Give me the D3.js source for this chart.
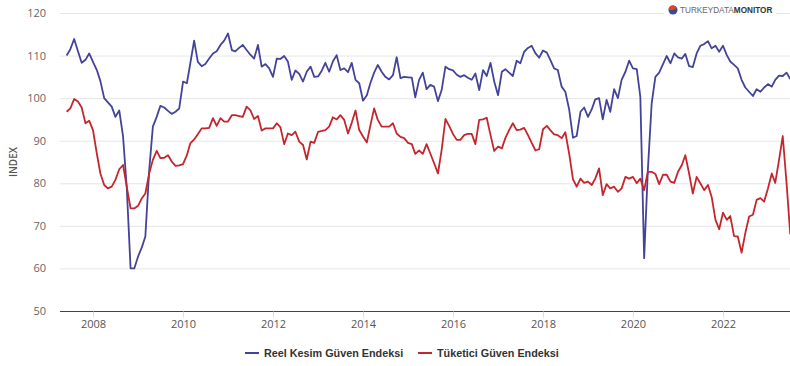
<!DOCTYPE html>
<html>
<head>
<meta charset="utf-8">
<script src="https://cdn.jsdelivr.net/npm/d3@7"></script>
<style>
  html, body { margin: 0; padding: 0; background: #fff; }
  svg { display: block; }
</style>
</head>
<body>
<svg id="chart" width="790" height="366"></svg>
<script>
// Monthly series, starting June 2007
const startMonth = "2007-06";
const seriesNames = ["Reel Kesim Güven Endeksi", "Tüketici Güven Endeksi"];
const seriesColors = ["#43439a", "#c4262d"];

const reelKesim = [
  110.0, 111.5, 113.9, 111.0, 108.3, 109.0, 110.5,
  108.5, 106.6, 104.0, 100.0, 99.0, 98.0, 95.6, 97.1, 91.0, 79.0, 60.0, 60.0,
  62.8, 65.0, 67.5, 83.0, 93.3, 95.6, 98.2, 97.8, 97.0, 96.3, 96.8, 97.6,
  103.9, 103.5, 108.2, 113.5, 108.5, 107.5, 108.0, 109.3, 110.5, 111.0, 112.5, 113.5,
  115.2, 111.3, 111.0, 111.8, 112.5, 111.3, 110.2, 109.3, 112.5, 107.4, 108.0, 107.0,
  105.0, 109.3, 109.2, 109.9, 108.6, 104.3, 106.5, 105.7, 103.9, 106.2, 107.4, 105.0,
  105.1, 106.5, 108.3, 106.2, 108.6, 110.1, 106.6, 107.0, 106.1, 108.3, 104.3, 103.5,
  99.4, 100.7, 103.5, 106.0, 107.8, 106.2, 105.0, 104.4, 105.4, 109.6, 104.7, 105.0,
  104.9, 104.8, 100.2, 104.3, 106.0, 102.1, 103.1, 102.7, 99.3, 101.9, 107.4, 106.8,
  106.5, 105.5, 105.0, 105.4, 104.8, 104.3, 105.8, 101.9, 106.6, 105.2, 108.3, 103.9,
  100.7, 106.2, 106.8, 106.0, 105.2, 108.8, 108.2, 110.9, 111.8, 112.3, 110.5, 109.5,
  111.2, 110.7, 109.0, 107.0, 106.6, 102.7, 101.5, 97.4, 90.7, 91.1, 96.8, 97.8,
  95.6, 97.4, 99.7, 100.0, 95.0, 99.6, 96.8, 102.1, 100.0, 104.3, 106.2, 108.8,
  107.0, 106.8, 100.3, 62.4, 83.1, 98.8, 105.0, 106.0, 108.0, 109.9, 108.2, 110.5,
  109.6, 109.3, 110.4, 107.5, 107.3, 110.5, 112.3, 112.7, 113.4, 111.7, 112.3, 110.9,
  112.3, 110.1, 108.6, 107.8, 107.0, 104.3, 102.5, 101.5, 100.5, 102.1, 101.5, 102.5,
  103.3, 102.7, 104.3, 105.3, 105.2, 106.0, 104.5
];

const tuketici = [
  96.8, 97.6, 99.8, 99.2, 97.8, 94.1, 94.7,
  92.5, 87.0, 82.3, 79.6, 78.8, 79.2, 80.8, 83.3, 84.3, 79.2, 74.1, 74.1,
  74.7, 76.5, 77.6, 82.3, 85.5, 87.6, 85.9, 86.0, 86.6, 85.1, 84.1, 84.2,
  84.5, 86.6, 89.4, 90.3, 91.5, 92.9, 92.9, 93.0, 95.3, 93.5, 95.3, 94.5,
  94.5, 96.0, 96.0, 95.8, 95.6, 98.0, 97.2, 95.1, 95.8, 92.4, 92.9, 92.9,
  92.9, 94.1, 93.2, 89.2, 91.7, 91.3, 92.1, 89.8, 89.0, 85.6, 89.8, 89.5,
  92.1, 92.3, 92.5, 93.3, 95.5, 95.0, 96.0, 94.9, 91.7, 94.2, 97.1, 92.5,
  91.0, 89.6, 93.5, 97.6, 94.9, 93.3, 93.3, 93.3, 94.1, 91.7, 90.9, 90.6,
  89.5, 89.2, 86.9, 87.7, 86.9, 89.2, 87.0, 84.7, 82.3, 87.8, 95.1, 93.5,
  91.6, 90.2, 90.2, 91.3, 91.6, 91.6, 89.2, 94.9, 95.0, 95.4, 91.3, 87.6,
  88.6, 88.2, 90.6, 92.5, 94.1, 92.5, 92.6, 93.0, 91.3, 89.5, 87.7, 88.0,
  92.7, 93.5, 92.5, 91.5, 91.3, 90.6, 92.0, 87.0, 81.0, 79.2, 81.1, 80.1,
  80.4, 79.6, 81.1, 83.5, 77.2, 79.8, 78.8, 79.2, 78.0, 78.8, 81.5, 81.1,
  81.5, 80.0, 81.1, 78.4, 82.7, 82.7, 82.2, 79.8, 82.0, 82.0, 80.4, 80.1,
  82.7, 84.3, 86.6, 82.3, 77.6, 81.5, 80.0, 78.4, 79.6, 76.8, 71.4, 69.2,
  73.1, 71.4, 72.3, 67.6, 67.5, 63.7, 68.3, 72.2, 72.6, 76.1, 76.5, 75.7,
  78.8, 82.3, 80.1, 85.5, 91.1, 80.0, 68.0
];

const yTicks = [50, 60, 70, 80, 90, 100, 110, 120];
const xTickYears = [2008, 2010, 2012, 2014, 2016, 2018, 2020, 2022];
const yAxisTitle = "INDEX";
const brandLight = "TURKEYDATA";
const brandBold = "MONITOR";

const svg = d3.select("#chart");
const W = 790, H = 366;
const margin = { left: 60, right: 0, top: 13, bottom: 55 };

const parseMonth = d3.utcParse("%Y-%m");
const t0 = parseMonth(startMonth);
const dates = reelKesim.map((_, i) => d3.utcMonth.offset(t0, i));

const x = d3.scaleUtc()
  .domain([Date.UTC(2008, 0, 1), Date.UTC(2022, 0, 1)])
  .range([93, 723]);
const y = d3.scaleLinear()
  .domain([50, 120])
  .range([H - margin.bottom, margin.top]);

// Horizontal gridlines
svg.append("g")
  .selectAll("line")
  .data(yTicks.filter(v => v !== 50))
  .join("line")
  .attr("x1", margin.left)
  .attr("x2", W)
  .attr("y1", d => y(d) + 0.5)
  .attr("y2", d => y(d) + 0.5)
  .attr("stroke", "#e6e6e6")
  .attr("stroke-width", 1);

// Y axis labels
const yAxis = d3.axisLeft(y).tickValues(yTicks).tickSize(0).tickPadding(0);
svg.append("g")
  .attr("transform", `translate(46,0)`)
  .call(yAxis)
  .call(g => g.select(".domain").remove())
  .selectAll("text")
  .attr("font-family", "'Open Sans', sans-serif")
  .attr("font-size", 11)
  .attr("fill", "#666");

// X axis
const xAxis = d3.axisBottom(x)
  .tickValues(xTickYears.map(yr => new Date(Date.UTC(yr, 0, 1))))
  .tickFormat(d3.utcFormat("%Y"))
  .tickSize(6)
  .tickPadding(3);
svg.append("g")
  .attr("transform", `translate(0,${y(50) + 0.5})`)
  .call(xAxis)
  .call(g => g.select(".domain")
    .attr("d", `M${margin.left},0H${W}`)
    .attr("stroke", "#444")
    .attr("stroke-width", 1.2))
  .call(g => g.selectAll(".tick line").attr("stroke", "#ddd"))
  .selectAll("text")
  .attr("font-family", "'Open Sans', sans-serif")
  .attr("font-size", 11)
  .attr("fill", "#555");

// Y axis title
svg.append("text")
  .attr("transform", `translate(17,${(y(50) + y(120)) / 2}) rotate(-90)`)
  .attr("text-anchor", "middle")
  .attr("font-family", "'Open Sans', sans-serif")
  .attr("font-size", 10)
  .attr("font-weight", 600)
  .attr("fill", "#555")
  .text(yAxisTitle);

// Lines
const line = d3.line()
  .x((d, i) => x(dates[i]))
  .y(d => y(d));

const plot = svg.append("g");
[reelKesim, tuketici].forEach((vals, k) => {
  plot.append("path")
    .datum(vals)
    .attr("d", line)
    .attr("fill", "none")
    .attr("stroke", seriesColors[k])
    .attr("stroke-width", 1.8)
    .attr("stroke-linejoin", "round");
});

// Brand mark, top right
const brand = svg.append("g").attr("transform", "translate(668,10)");
brand.append("rect")
  .attr("x", -4).attr("y", -7).attr("width", 112).attr("height", 14)
  .attr("fill", "#fff");
brand.append("circle").attr("cx", 5).attr("cy", 0).attr("r", 4.5).attr("fill", "#3c4a8c");
brand.append("path")
  .attr("d", d3.arc()({ innerRadius: 0, outerRadius: 4.5, startAngle: -Math.PI / 2, endAngle: Math.PI * 0.35 }))
  .attr("transform", "translate(5,0)")
  .attr("fill", "#d9472b");
const brandText = brand.append("text")
  .attr("x", 12).attr("y", 3.2)
  .attr("font-family", "'Liberation Sans', Arial, sans-serif")
  .attr("font-size", 8.2)
  .attr("fill", "#444");
brandText.append("tspan").attr("font-weight", 400).attr("fill", "#666").text(brandLight);
brandText.append("tspan").attr("font-weight", 700).attr("fill", "#333").text(brandBold);

// Legend
const legendItems = [{ x: 245 }, { x: 418 }];
const legend = svg.append("g").attr("transform", "translate(0,353)");
legendItems.forEach((it, k) => {
  legend.append("line")
    .attr("x1", it.x).attr("x2", it.x + 14)
    .attr("y1", 0).attr("y2", 0)
    .attr("stroke", seriesColors[k])
    .attr("stroke-width", 2);
  legend.append("text")
    .attr("x", it.x + 19).attr("y", 4)
    .attr("font-family", "'Liberation Sans', Arial, sans-serif")
    .attr("font-size", 10.8)
    .attr("font-weight", 700)
    .attr("fill", "#333")
    .text(seriesNames[k]);
});
</script>
</body>
</html>
